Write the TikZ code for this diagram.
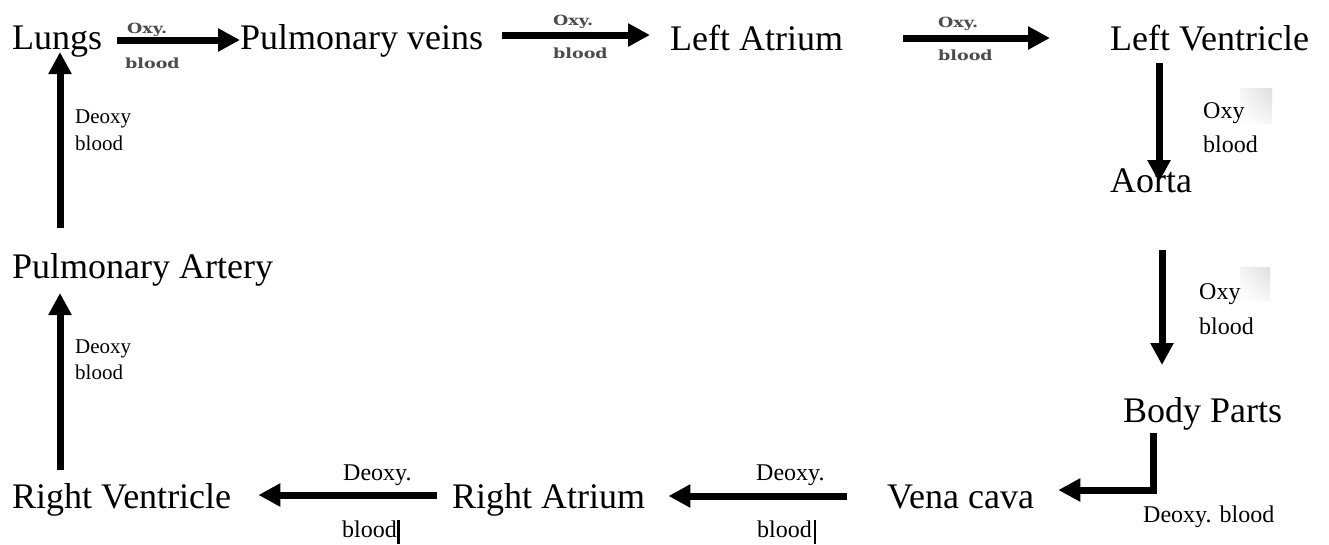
\documentclass[tikz,border=0pt]{standalone}
\usepackage{graphicx}
\usepackage{fontspec}
\setmainfont{Liberation Serif}
\newfontfamily\wideserif{DejaVu Serif}
\usetikzlibrary{arrows.meta,calc,shadings}
\begin{document}
\begin{tikzpicture}[x=1pt,y=-1pt,
  organ/.style={inner sep=0pt,anchor=base west,font=\fontsize{36}{40}\selectfont},
  flow/.style={line width=7pt,-{Triangle[length=22pt,width=22pt]}},
  tinylbl/.style={inner sep=0pt,anchor=base west,font=\wideserif\bfseries\fontsize{14}{16}\selectfont,text=black!70},
  lbl/.style={inner sep=0pt,anchor=base west,font=\fontsize{24}{28}\selectfont},
  lbls/.style={inner sep=0pt,anchor=base west,font=\fontsize{21}{24}\selectfont},
  smudge/.style={upper right=black!13,lower left=white,upper left=white!96!black,lower right=white!96!black}
]
\useasboundingbox[fill=white] (0,0) rectangle (1329,544);

% organs
\node[organ] (lungs) at (12,49) {Lungs};
\node[organ] (pv) at (240,49) {Pulmonary veins};
\node[organ] (la) at (670,50) {Left Atrium};
\node[organ] (lv) at (1110,50) {Left Ventricle};
\node[organ] (aorta) at (1110,192) {Aorta};
\node[organ] (pa) at (12,278) {Pulmonary Artery};
\node[organ] (body) at (1123,422) {Body Parts};
\node[organ] (rv) at (12,508) {Right Ventricle};
\node[organ] (ra) at (452,508) {Right Atrium};
\node[organ] (vena) at (887,508) {Vena cava};

% connectors
\draw[flow] ($(lungs.base east)+(15,-9)$) -- ($(pv.base west)+(0,-9)$);
\draw[flow] ($(pv.base east)+(19,-14)$) -- ($(la.base west)+(-20,-15)$);
\draw[flow] ($(la.base east)+(60,-12)$) -- ($(lv.base west)+(-60,-12)$);
\draw[flow] ($(lv.base west)+(49,13)$) -- ($(aorta.base west)+(49,-10)$);
\draw[flow] ($(aorta.base west)+(52,58)$) -- ($(body.base west)+(39,-57)$);
\draw[flow] ($(body.base west)+(30,11)$) |- ($(vena.base east)+(24,-18)$);
\draw[flow] ($(vena.base west)+(-40,-12)$) -- ($(ra.base east)+(23,-12)$);
\draw[flow] ($(ra.base west)+(-15,-13)$) -- ($(rv.base east)+(27,-13)$);
\draw[flow] ($(rv.base west)+(48,-38)$) -- ($(pa.base west)+(48,15)$);
\draw[flow] ($(pa.base west)+(48,-50)$) -- ($(lungs.base west)+(48,3)$);

% top labels
\node[tinylbl] (t1a) at (127,33) {\scalebox{1.25}[1]{Oxy.}};
\node[tinylbl] (t1b) at (125,68) {\scalebox{1.25}[1]{blood}};
\node[tinylbl] (t2a) at (553,25) {\scalebox{1.25}[1]{Oxy.}};
\node[tinylbl] (t2b) at (553,58) {\scalebox{1.25}[1]{blood}};
\node[tinylbl] (t3a) at (938,27) {\scalebox{1.25}[1]{Oxy.}};
\node[tinylbl] (t3b) at (938,60) {\scalebox{1.25}[1]{blood}};

% right labels
\shade[smudge] (1240,88) rectangle (1272,123);
\shade[smudge] (1240,267) rectangle (1270,300);
\node[lbl] (r1a) at (1203,118) {Oxy};
\node[lbl] (r1b) at (1203,152) {blood};
\node[lbl] (r2a) at (1199,299) {Oxy};
\node[lbl] (r2b) at (1199,334) {blood};
\node[lbl] (r3) at (1143,522) {Deoxy. blood};

% bottom labels
\node[lbl] (b1a) at (343,480) {Deoxy.};
\node[lbl] (b1b) at (342,537) {blood};
\node[lbl] (b2a) at (756,480) {Deoxy.};
\node[lbl] (b2b) at (757,537) {blood};
\fill (397,520) rectangle (399.5,544);
\fill (813.5,520) rectangle (816,544);

% left labels
\node[lbls] (l1a) at (75,123) {Deoxy};
\node[lbls] (l1b) at (75,150) {blood};
\node[lbls] (l2a) at (75,353) {Deoxy};
\node[lbls] (l2b) at (75,379) {blood};
\end{tikzpicture}
\end{document}
